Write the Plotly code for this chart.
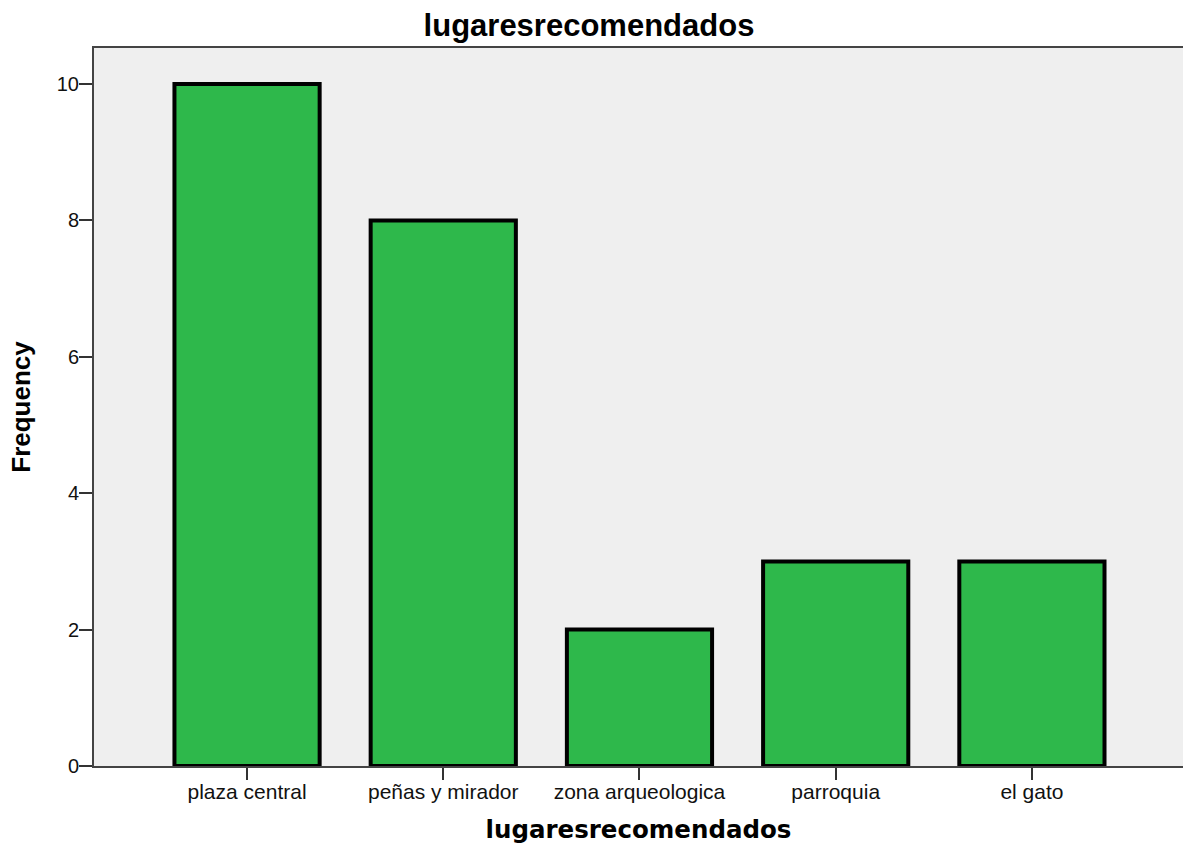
import plotly.graph_objects as go

categories = ["plaza central", "peñas y mirador", "zona arqueologica", "parroquia", "el gato"]
frequencies = [10, 8, 2, 3, 3]
y_ticks = [0, 2, 4, 6, 8, 10]
chart_title = "lugaresrecomendados"
x_title = "lugaresrecomendados"
y_title = "Frequency"

W, H = 1183, 845
ML, MR, MT, MB = 94, 0, 48, 79

fig = go.Figure()
fig.add_trace(go.Bar(
    x=categories,
    y=frequencies,
    width=0.74,
    marker=dict(color="rgb(46,184,75)", line=dict(color="black", width=4)),
    hoverinfo="x+y",
))

fig.update_layout(
    width=W, height=H,
    margin=dict(l=ML, r=MR, t=MT, b=MB, autoexpand=False),
    paper_bgcolor="white",
    plot_bgcolor="#efefef",
    showlegend=False,
    font=dict(family="Liberation Sans, Arial, sans-serif", color="black"),
    title=dict(
        text="<b>" + chart_title + "</b>",
        x=589 / W, xref="container", xanchor="center",
        y=1 - 25 / H, yref="container", yanchor="middle",
        font=dict(size=31, family="Liberation Sans, Arial, sans-serif", color="black"),
    ),
)

fig.update_xaxes(
    type="category",
    range=[-0.78, 4.77],
    showgrid=False,
    showline=True, linecolor="#444", linewidth=2,
    mirror=True,
    ticks="outside", ticklen=12, tickcolor="#333", tickwidth=2,
    ticklabelstandoff=-6,
    tickfont=dict(size=21, family="Liberation Sans, Arial, sans-serif", color="#111"),
    title=dict(text="<b>" + x_title + "</b>", standoff=19,
               font=dict(size=24.5, family="DejaVu Sans, sans-serif", color="black")),
    automargin=False,
    fixedrange=True,
)
fig.update_yaxes(
    range=[0, 10.528],
    tickvals=y_ticks,
    showgrid=False, zeroline=False,
    showline=True, linecolor="#444", linewidth=2,
    ticks="outside", ticklen=13, tickcolor="#333", tickwidth=2,
    ticklabelstandoff=-4,
    tickfont=dict(size=20, family="Liberation Sans, Arial, sans-serif", color="#111"),
    title=dict(text="<b>" + y_title + "</b>", standoff=19,
               font=dict(size=26, family="Liberation Sans, Arial, sans-serif", color="black")),
    automargin=False,
    fixedrange=True,
)

fig.write_html("out.html", config={"displayModeBar": False},
               post_script="document.body.style.margin='0px';")
